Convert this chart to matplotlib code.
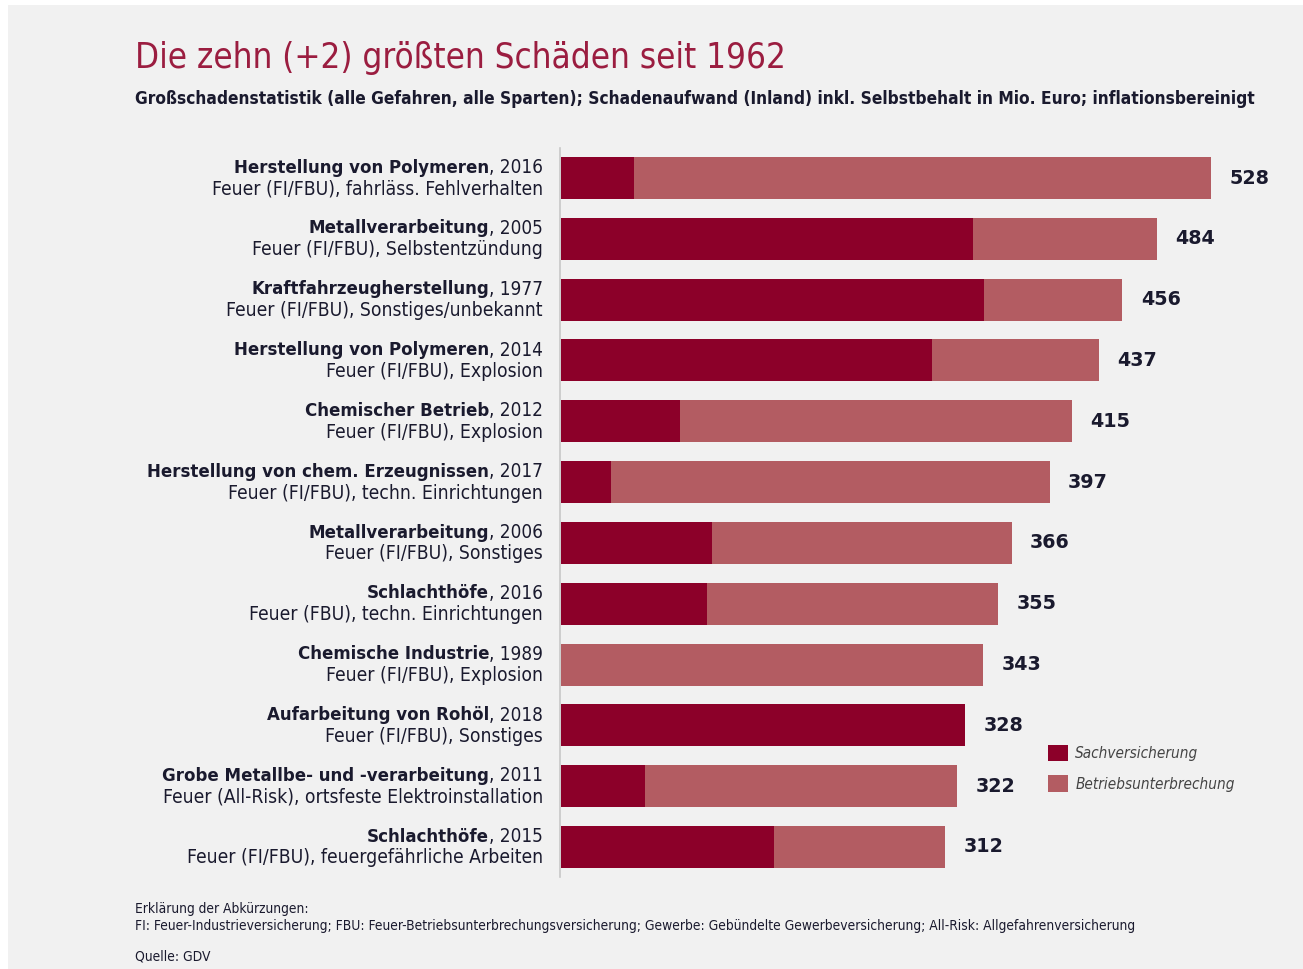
import matplotlib.pyplot as plt
from matplotlib.patches import Rectangle, Patch

# Daten (Mio. Euro)
branchen = ["Herstellung von Polymeren", "Metallverarbeitung", "Kraftfahrzeugherstellung",
            "Herstellung von Polymeren", "Chemischer Betrieb", "Herstellung von chem. Erzeugnissen",
            "Metallverarbeitung", "Schlachthöfe", "Chemische Industrie",
            "Aufarbeitung von Rohöl", "Grobe Metallbe- und -verarbeitung", "Schlachthöfe"]
jahre = ["2016", "2005", "1977", "2014", "2012", "2017", "2006", "2016", "1989", "2018", "2011", "2015"]
ursachen = ["Feuer (FI/FBU), fahrläss. Fehlverhalten", "Feuer (FI/FBU), Selbstentzündung",
            "Feuer (FI/FBU), Sonstiges/unbekannt", "Feuer (FI/FBU), Explosion",
            "Feuer (FI/FBU), Explosion", "Feuer (FI/FBU), techn. Einrichtungen",
            "Feuer (FI/FBU), Sonstiges", "Feuer (FBU), techn. Einrichtungen",
            "Feuer (FI/FBU), Explosion", "Feuer (FI/FBU), Sonstiges",
            "Feuer (All-Risk), ortsfeste Elektroinstallation", "Feuer (FI/FBU), feuergefährliche Arbeiten"]
gesamt = [528, 484, 456, 437, 415, 397, 366, 355, 343, 328, 322, 312]
sach = [59, 335, 344, 301, 97, 41, 123, 119, 0, 328, 68, 173]
bu = [g - s for g, s in zip(gesamt, sach)]
legende = ["Sachversicherung", "Betriebsunterbrechung"]

DARK = "#8c0029"
LIGHT = "#b35c62"
TITLE = "#9b1d40"
TXT = "#1a1a2e"
FONT = "DejaVu Sans"

W, H = 1303, 969
fig = plt.figure(figsize=(W / 100, H / 100), dpi=100, facecolor="white")
fig.patches.append(Rectangle((8 / W, 0), 1, 1 - 5 / H, transform=fig.transFigure,
                             facecolor="#f1f1f1", edgecolor="none", zorder=-10))

# Achse: x=560..px, Zeilen 178..847 px
scale = 1.231
x0, x1 = 560, 560 + 560 * scale
top, bottom = 147.6, 877.4
ax = fig.add_axes([x0 / W, 1 - bottom / H, (x1 - x0) / W, (bottom - top) / H])
ax.set_facecolor("none")
ax.set_xlim(0, 560)
ax.set_ylim(len(gesamt) - 0.5, -0.5)
for s in ["top", "right", "bottom"]:
    ax.spines[s].set_visible(False)
ax.spines["left"].set_color("#c8c8c8")
ax.spines["left"].set_linewidth(1.2)
ax.set_xticks([])
ax.set_yticks([])

y = list(range(len(gesamt)))
ax.barh(y, sach, height=0.69, color=DARK, left=0.8)
ax.barh(y, bu, height=0.69, color=LIGHT, left=[s + 0.8 for s in sach])

for i, g in enumerate(gesamt):
    ax.annotate(str(g), (g, i), xytext=(14, 0), textcoords="offset points",
                ha="left", va="center", fontsize=13.8, fontweight="bold",
                color=TXT, family=FONT)

# Zeilenbeschriftungen
lab_x = -17 / (x1 - x0)
trans = ax.get_yaxis_transform()
FS = 13.6
jahr_texte = []
for i in y:
    t = ax.text(lab_x, i - 0.17, ", " + jahre[i], ha="right", va="center",
                fontsize=FS, color=TXT, family=FONT, fontstretch="condensed", transform=trans)
    jahr_texte.append(t)
    ax.text(lab_x, i + 0.18, ursachen[i], ha="right", va="center",
            fontsize=FS + 0.3, color=TXT, family=FONT, fontstretch="condensed", transform=trans)

fig.canvas.draw()
r = fig.canvas.get_renderer()
for i, t in enumerate(jahr_texte):
    bb = t.get_window_extent(r)
    xl = ax.transAxes.inverted().transform((bb.x0, bb.y0))[0]
    ax.text(xl, i - 0.17, branchen[i], ha="right", va="center", fontsize=FS - 0.3,
            fontweight="bold", color=TXT, family=FONT, fontstretch="condensed", transform=trans)

# Titel
fig.text(135 / W, 1 - 58 / H, "Die zehn (+2) größten Schäden seit 1962", ha="left", va="center",
         fontsize=25, color=TITLE, family=FONT, fontstretch="condensed")
fig.text(135 / W, 1 - 99 / H,
         "Großschadenstatistik (alle Gefahren, alle Sparten); Schadenaufwand (Inland) inkl. Selbstbehalt in Mio. Euro; inflationsbereinigt",
         ha="left", va="center", fontsize=12.4, fontweight="bold", color=TXT, family=FONT,
         fontstretch="condensed")

# Legende
handles = [Patch(facecolor=DARK), Patch(facecolor=LIGHT)]
fig.legend(handles, legende, loc="upper left", bbox_to_anchor=(1034 / W, 1 - 731 / H),
           frameon=False, handlelength=1.3, handleheight=1.3, handletextpad=0.5,
           labelspacing=0.9, prop={"family": FONT, "style": "italic", "size": 11,
                                   "stretch": "condensed"},
           labelcolor="#444444")

# Fußnoten
FN = 9.9
fig.text(135 / W, 1 - 909 / H, "Erklärung der Abkürzungen:", fontsize=FN, color=TXT,
         family=FONT, fontstretch="condensed", va="center")
fig.text(135 / W, 1 - 926 / H,
         "FI: Feuer-Industrieversicherung; FBU: Feuer-Betriebsunterbrechungsversicherung; Gewerbe: Gebündelte Gewerbeversicherung; All-Risk: Allgefahrenversicherung",
         fontsize=FN, color=TXT, family=FONT, fontstretch="condensed", va="center")
fig.text(135 / W, 1 - 956 / H, "Quelle: GDV", fontsize=FN, color=TXT, family=FONT,
         fontstretch="condensed", va="center")

fig.savefig("out.png", dpi=100, facecolor="white")
